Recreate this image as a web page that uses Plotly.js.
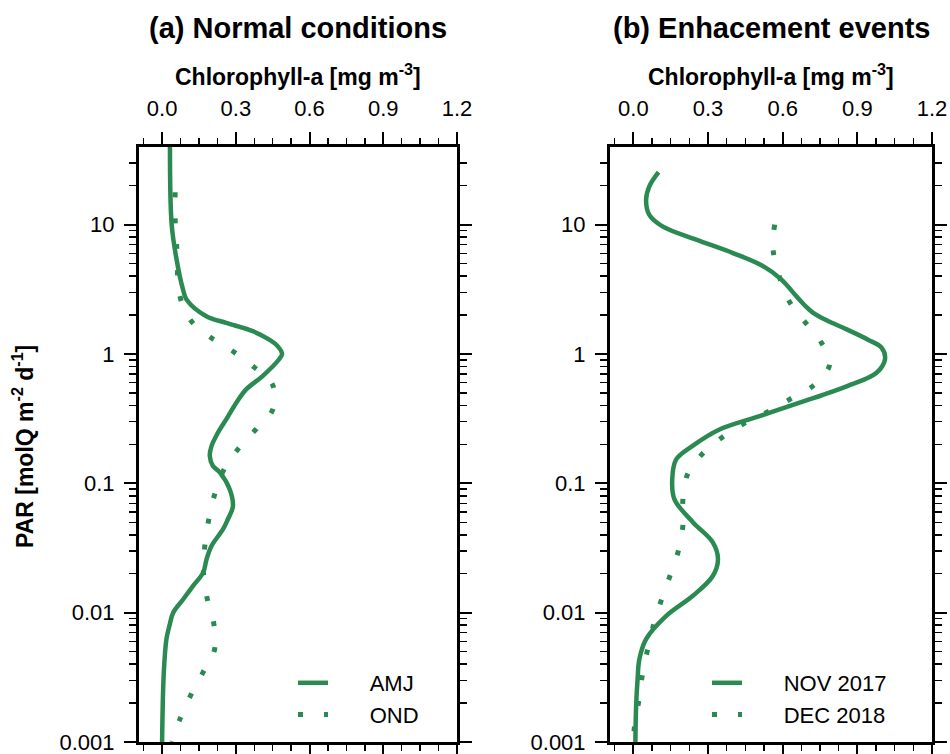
<!DOCTYPE html>
<html>
<head>
<meta charset="utf-8">
<script src="https://cdn.plot.ly/plotly-3.0.1.min.js"></script>
<style>html,body{margin:0;padding:0;background:#fff;}#chart{width:950px;height:754px;}</style>
</head>
<body>
<div id="chart"></div>
<script>
// ---- Data (PAR in molQ m-2 d-1 on y, Chlorophyll-a in mg m-3 on x) ----
const amjPAR = [39.8, 10, 5.37, 3.16, 2.63, 1.96, 1.74, 1.50, 1.29, 1.15, 1, 0.914, 0.675, 0.532, 0.42, 0.312,
  0.246, 0.194, 0.163, 0.136, 0.122, 0.0899, 0.0661, 0.0525, 0.0442, 0.0328, 0.0259, 0.0204, 0.0161, 0.0127,
  0.0100, 0.00794, 0.00631, 0.00347, 0.001];
const amjChl = [0.032, 0.039, 0.059, 0.085, 0.10, 0.18, 0.261, 0.369, 0.436, 0.47, 0.488, 0.477, 0.409, 0.342, 0.302, 0.261,
  0.227, 0.201, 0.194, 0.207, 0.234, 0.275, 0.288, 0.267, 0.248, 0.201, 0.181, 0.167, 0.126, 0.086,
  0.045, 0.03, 0.018, 0.007, 0.0];

const ondPAR = [17.8, 11.07, 7.01, 2.78, 1.82, 1.34, 1.05, 0.794, 0.575, 0.372, 0.263, 0.186, 0.126, 0.0822,
  0.0525, 0.0331, 0.0209, 0.0130, 0.00832, 0.00525, 0.00347, 0.00229, 0.00151, 0.001];
const ondChl = [0.053, 0.053, 0.059, 0.073, 0.116, 0.198, 0.288, 0.373, 0.45, 0.45, 0.383, 0.311, 0.250, 0.214,
  0.19, 0.174, 0.168, 0.183, 0.21, 0.214, 0.167, 0.116, 0.073, 0.04];

const novPAR = [25.5, 19.8, 15.5, 11.9, 9.7, 7.66, 6.03, 4.79, 3.76, 2.79, 2.37, 2.09, 1.82, 1.55, 1.29, 1.12, 0.912,
  0.716, 0.562, 0.42, 0.331, 0.261, 0.195, 0.153, 0.107, 0.0752, 0.0501, 0.035, 0.0259, 0.0192, 0.0135,
  0.00944, 0.00624, 0.00437, 0.00309, 0.00191, 0.001];
const novChl = [0.101, 0.064, 0.051, 0.064, 0.117, 0.252, 0.40, 0.52, 0.595, 0.655, 0.689, 0.721, 0.776, 0.857, 0.943, 0.997, 1.011,
  0.977, 0.857, 0.668, 0.507, 0.346, 0.238, 0.172, 0.156, 0.165, 0.239, 0.319, 0.34, 0.319, 0.239,
  0.132, 0.051, 0.024, 0.017, 0.011, 0.008];

const decPAR = [10, 6.41, 2.67, 1.84, 1.28, 0.839, 0.582, 0.459, 0.363, 0.297, 0.232, 0.173, 0.119, 0.0752,
  0.0474, 0.0302, 0.0195, 0.0126, 0.00805, 0.00321, 0.00204, 0.0013, 0.001];
const decChl = [0.568, 0.561, 0.621, 0.682, 0.749, 0.789, 0.729, 0.639, 0.548, 0.454, 0.364, 0.282, 0.219, 0.199,
  0.199, 0.181, 0.148, 0.113, 0.081, 0.035, 0.021, 0.004, 0.0];

const xTickVals = [0, 0.3, 0.6, 0.9, 1.2];
const xTickText = ['0.0', '0.3', '0.6', '0.9', '1.2'];
const yTickVals = [0.001, 0.01, 0.1, 1, 10];
const yTickText = ['0.001', '0.01', '0.1', '1', '10'];

const seriesNames = ['AMJ', 'OND', 'NOV 2017', 'DEC 2018'];
const panelTitles = ['(a) Normal conditions', '(b) Enhacement events'];
const xTitle = 'Chlorophyll-a [mg m<sup>-3</sup>]';
const yTitle = 'PAR [molQ m<sup>-2</sup> d<sup>-1</sup>]';

// ---- Styling ----
const GREEN = '#2a8a52';
const FONT = 'Liberation Sans, Arial, Helvetica, sans-serif';
const pad = '\u00a0\u00a0\u00a0\u00a0\u00a0\u00a0';
const solid = {color: GREEN, width: 4.5, shape: 'spline', smoothing: 1};
const dotted = {color: GREEN, width: 5, shape: 'spline', smoothing: 1, dash: '5px,21px'};

const traces = [
  {x: amjChl, y: amjPAR, name: pad + seriesNames[0], mode: 'lines', line: solid, xaxis: 'x', yaxis: 'y', legend: 'legend'},
  {x: ondChl, y: ondPAR, name: pad + seriesNames[1], mode: 'lines', line: dotted, xaxis: 'x', yaxis: 'y', legend: 'legend'},
  {x: novChl, y: novPAR, name: pad + seriesNames[2], mode: 'lines', line: solid, xaxis: 'x2', yaxis: 'y2', legend: 'legend2'},
  {x: decChl, y: decPAR, name: pad + seriesNames[3], mode: 'lines', line: dotted, xaxis: 'x2', yaxis: 'y2', legend: 'legend2'}
];

function xAxis(domain, anchor) {
  return {
    domain: domain, anchor: anchor, side: 'top', range: [-0.094, 1.2],
    tickmode: 'array', tickvals: xTickVals, ticktext: xTickText,
    ticks: 'outside', ticklen: 12, tickwidth: 2, tickcolor: '#000',
    ticklabelstandoff: 7, ticklabeloverflow: 'allow',
    minor: {tickmode: 'linear', tick0: 0, dtick: 0.075, ticks: 'outside', ticklen: 6, tickwidth: 1.5, tickcolor: '#000', showgrid: false},
    showline: true, linewidth: 3, linecolor: '#000', mirror: 'ticks',
    showgrid: false, zeroline: false,
    tickfont: {family: FONT, size: 22, color: '#000'}
  };
}
function yAxis(domain, anchor) {
  return {
    domain: domain, anchor: anchor, type: 'log', range: [-3, 1.6],
    tickmode: 'array', tickvals: yTickVals, ticktext: yTickText,
    ticks: 'outside', ticklen: 12, tickwidth: 2, tickcolor: '#000',
    ticklabelstandoff: 5, ticklabeloverflow: 'allow',
    minor: {tickmode: 'linear', dtick: 'D1', ticks: 'outside', ticklen: 7, tickwidth: 1.5, tickcolor: '#000', showgrid: false},
    showline: true, linewidth: 3, linecolor: '#000', mirror: 'ticks',
    showgrid: false, zeroline: false,
    tickfont: {family: FONT, size: 22, color: '#000'}
  };
}

const yDom = [0.0159, 0.805];
const legendBase = {
  bgcolor: 'rgba(0,0,0,0)', borderwidth: 0,
  font: {family: FONT, size: 22, color: '#000'},
  xanchor: 'left', yanchor: 'top', tracegroupgap: 0
};

const layout = {
  width: 950, height: 754,
  margin: {l: 0, r: 0, t: 0, b: 0, autoexpand: false},
  paper_bgcolor: '#fff', plot_bgcolor: '#fff',
  showlegend: true,
  xaxis: xAxis([0.1463, 0.4811], 'y'),
  yaxis: yAxis(yDom, 'x'),
  xaxis2: xAxis([0.6421, 0.9811], 'y2'),
  yaxis2: yAxis(yDom, 'x2'),
  legend: Object.assign({}, legendBase, {x: 293 / 950, y: (754 - 662) / 754}),
  legend2: Object.assign({}, legendBase, {x: 707 / 950, y: (754 - 662) / 754}),
  annotations: [
    {text: panelTitles[0], xref: 'paper', yref: 'paper', x: 298 / 950, y: (754 - 28) / 754, showarrow: false,
      xanchor: 'center', yanchor: 'middle', font: {family: FONT, size: 29, color: '#000', weight: 'bold'}},
    {text: panelTitles[1], xref: 'paper', yref: 'paper', x: 771 / 950, y: (754 - 28) / 754, showarrow: false,
      xanchor: 'center', yanchor: 'middle', font: {family: FONT, size: 29, color: '#000', weight: 'bold'}},
    {text: xTitle, xref: 'paper', yref: 'paper', x: 298 / 950, y: (754 - 75) / 754, showarrow: false,
      xanchor: 'center', yanchor: 'middle', font: {family: FONT, size: 23, color: '#000', weight: 'bold'}},
    {text: xTitle, xref: 'paper', yref: 'paper', x: 771 / 950, y: (754 - 75) / 754, showarrow: false,
      xanchor: 'center', yanchor: 'middle', font: {family: FONT, size: 23, color: '#000', weight: 'bold'}},
    {text: yTitle, xref: 'paper', yref: 'paper', x: 23 / 950, y: (754 - 447) / 754, showarrow: false, textangle: -90,
      xanchor: 'center', yanchor: 'middle', font: {family: FONT, size: 23, color: '#000', weight: 'bold'}}
  ]
};

Plotly.newPlot('chart', traces, layout, {displayModeBar: false, staticPlot: true});
</script>
</body>
</html>
